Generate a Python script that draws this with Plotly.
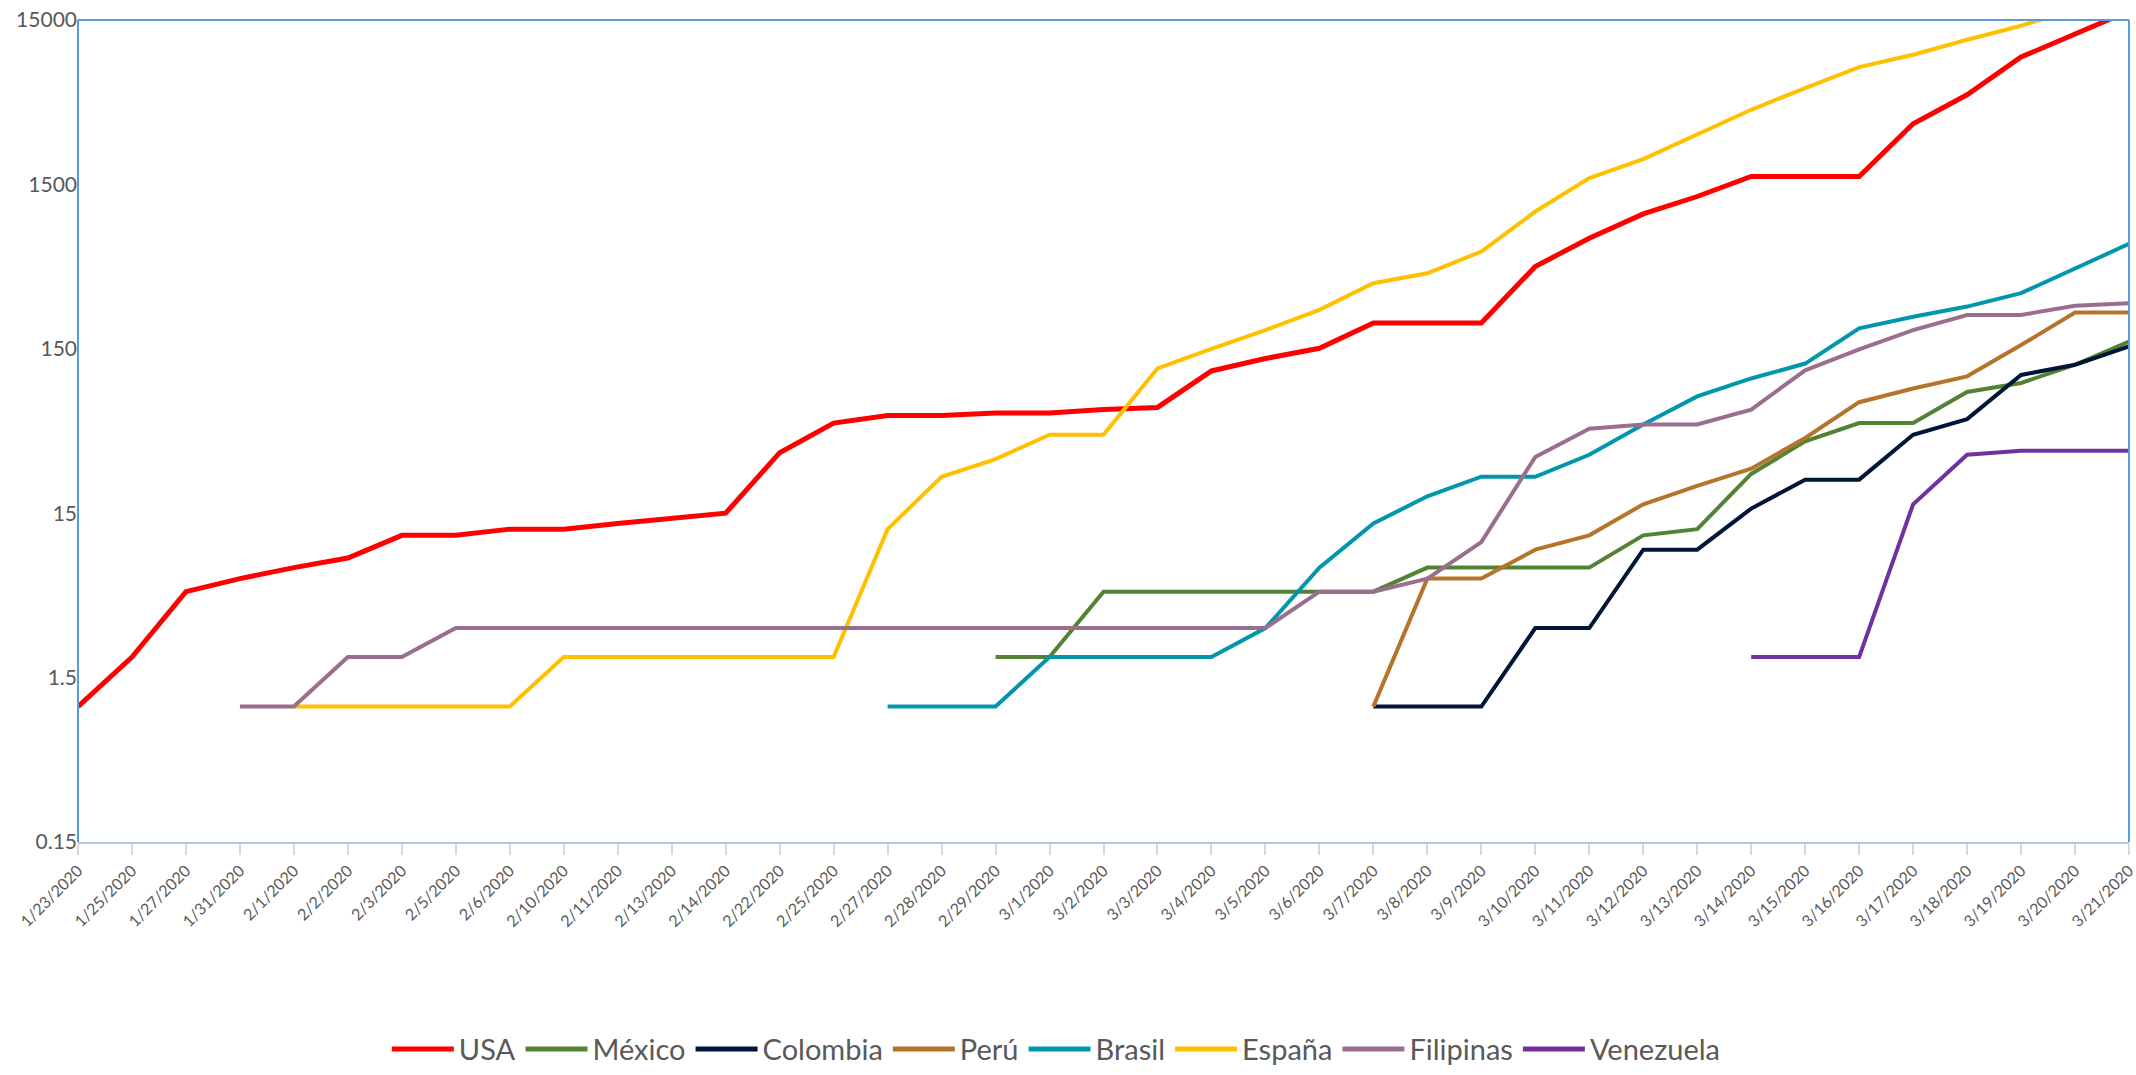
import plotly.graph_objects as go

dates = ["1/23/2020", "1/25/2020", "1/27/2020", "1/31/2020", "2/1/2020", "2/2/2020", "2/3/2020",
         "2/5/2020", "2/6/2020", "2/10/2020", "2/11/2020", "2/13/2020", "2/14/2020", "2/22/2020",
         "2/25/2020", "2/27/2020", "2/28/2020", "2/29/2020", "3/1/2020", "3/2/2020", "3/3/2020",
         "3/4/2020", "3/5/2020", "3/6/2020", "3/7/2020", "3/8/2020", "3/9/2020", "3/10/2020",
         "3/11/2020", "3/12/2020", "3/13/2020", "3/14/2020", "3/15/2020", "3/16/2020", "3/17/2020",
         "3/18/2020", "3/19/2020", "3/20/2020", "3/21/2020"]

N = None
usa = [1, 2, 5, 6, 7, 8, 11, 11, 12, 12, 13, 14, 15, 35, 53, 59, 59, 61, 61, 64, 66, 110, 131, 151,
       215, 215, 215, 475, 706, 993, 1266, 1675, 1675, 1675, 3506, 5264, 8930, 12200, 17000]
mexico = [N] * 17 + [2, 2, 5, 5, 5, 5, 5, 5, 7, 7, 7, 7, 11, 12, 26, 41, 53, 53, 82, 93, 120, 166]
colombia = [N] * 24 + [1, 1, 1, 3, 3, 9, 9, 16, 24, 24, 45, 56, 104, 120, 155]
peru = [N] * 24 + [1, 6, 6, 9, 11, 17, 22, 28, 43, 71, 86, 102, 158, 249, 249]
brasil = [N] * 15 + [1, 1, 1, 2, 2, 2, 2, 3, 7, 13, 19, 25, 25, 34, 52, 77, 99, 122, 200, 235, 271,
                     327, 464, 652]
espana = [N] * 4 + [1, 1, 1, 1, 1, 2, 2, 2, 2, 2, 2, 12, 25, 32, 45, 45, 114, 150, 195, 259, 376,
                    432, 586, 1026, 1638, 2138, 3006, 4266, 5780, 7760, 9220, 11380, 13840, 17500,
                    21000]
filipinas = [N] * 3 + [1, 1, 2, 2] + [3] * 16 + [5, 5, 6, 10, 33, 49, 52, 52, 64, 111, 149, 195,
                                                  241, 241, 274, 284]
venezuela = [N] * 31 + [2, 2, 2, 17, 34, 36, 36, 36]

series_names = ["USA", "México", "Colombia", "Perú", "Brasil", "España", "Filipinas", "Venezuela"]
series_values = [usa, mexico, colombia, peru, brasil, espana, filipinas, venezuela]
series_colors = ["#FF0000", "#548235", "#001538", "#B5742A", "#0097AC", "#FFC000", "#9A6E8E",
                 "#7030A0"]
series_widths = [5, 4, 4, 4, 4, 4, 4, 4]

ytick_vals = [0.15, 1.5, 15, 150, 1500, 15000]
ytick_text = ["0.15", "1.5", "15", "150", "1500", "15000"]

fig = go.Figure()
for name, vals, col, w in zip(series_names, series_values, series_colors, series_widths):
    fig.add_trace(go.Scatter(x=dates, y=vals, name=name, mode="lines",
                             line=dict(color=col, width=w), connectgaps=False))

W, H = 2136, 1075
L, R, T, B = 78, 7, 20, 233
fig.update_layout(
    width=W, height=H,
    margin=dict(l=L, r=R, t=T, b=B, autoexpand=False),
    paper_bgcolor="white", plot_bgcolor="white",
    font=dict(family="Lato, sans-serif", color="#595959"),
    showlegend=True,
    legend=dict(orientation="h", x=0.477, xanchor="center", y=-0.252, yanchor="middle",
                font=dict(size=29, color="#595959"), itemwidth=62, tracegroupgap=0,
                itemsizing="constant"),
    xaxis=dict(type="category", range=[0, len(dates) - 1], showgrid=False, zeroline=False,
               showline=True, linecolor="#B4C7E7", linewidth=2, ticks="outside", ticklen=11,
               tickcolor="#D9D9D9", tickwidth=2, tickangle=-45,
               tickfont=dict(size=16, color="#595959"), mirror=False),
    yaxis=dict(type="log", range=[-0.8239, 4.1761], showgrid=False, zeroline=False,
               showline=False, tickvals=ytick_vals, ticktext=ytick_text,
               tickfont=dict(size=21, color="#595959"), ticks=""),
)

border = "#5B9BD5"
fig.add_shape(type="line", xref="paper", yref="paper", x0=0, x1=0, y0=0, y1=1,
              line=dict(color=border, width=2))
fig.add_shape(type="line", xref="paper", yref="paper", x0=0, x1=1, y0=1, y1=1,
              line=dict(color=border, width=2))
fig.add_shape(type="line", xref="paper", yref="paper", x0=1, x1=1, y0=0, y1=1,
              line=dict(color=border, width=2))

fig.write_html("out.html", config={"displayModeBar": False},
               post_script="document.body.style.margin='0';document.body.style.overflow='hidden';")
